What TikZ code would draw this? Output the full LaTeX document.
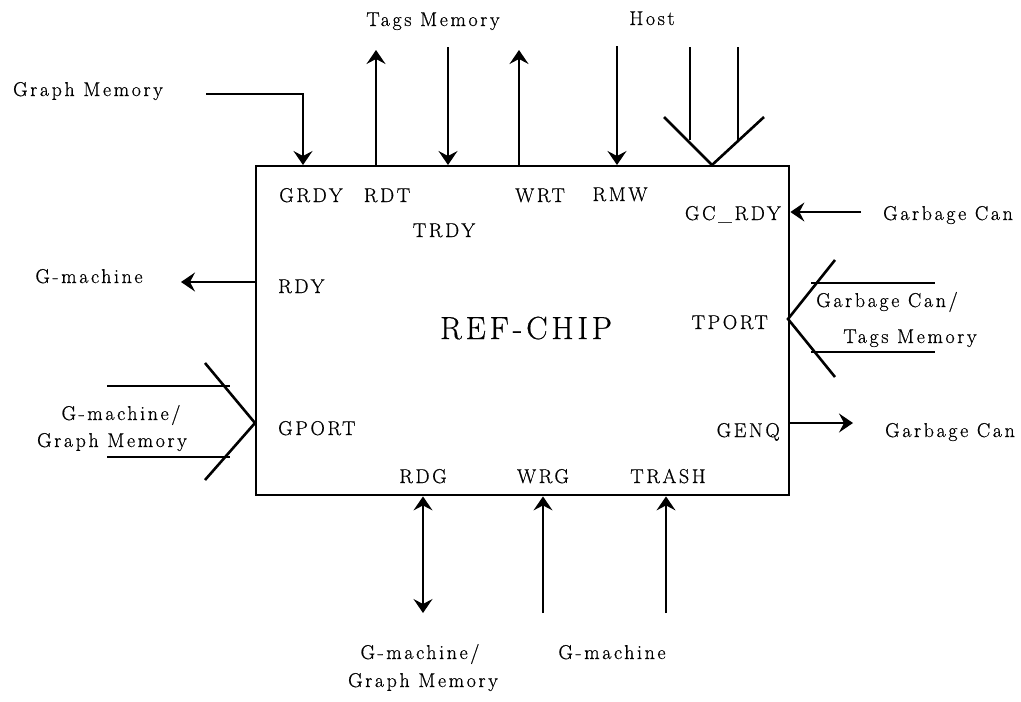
\documentclass[tikz,border=0pt]{standalone}
\usepackage{fontspec}
\newfontfamily\lblfont{Latin Modern Roman}[LetterSpace=13,FakeBold=0.6]
\newfontfamily\titlefont{Latin Modern Roman}[LetterSpace=12,FakeBold=0.6]
\usetikzlibrary{arrows.meta}
\begin{document}
\begin{tikzpicture}[x=1pt,y=-1pt,
  lbl/.style={font=\lblfont\fontsize{20}{23}\selectfont, inner sep=0pt, anchor=base},
  title/.style={font=\titlefont\fontsize{32}{36}\selectfont, inner sep=0pt, anchor=base},
  sig/.style={line width=1.5pt},
  bus/.style={line width=2.6pt},
  tip/.tip={Stealth[length=14pt,width=19pt,inset=5pt]},
  arr/.style={sig, -tip},
  darr/.style={sig, tip-tip},
  chipbox/.style={draw, line width=2.4pt, minimum width=533pt, minimum height=329pt, inner sep=0pt, anchor=north west}]
\useasboundingbox (0,0) rectangle (1021,702);

% main box
\node[chipbox] (chip) at (255,165) {};
\node[title] (name) at (526,339) {REF-CHIP};

% inner port labels
\node[lbl] (grdy) at (311,202) {GRDY};
\node[lbl] (rdt) at (387,202) {RDT};
\node[lbl] (trdy) at (444,237) {TRDY};
\node[lbl] (wrt) at (540,202) {WRT};
\node[lbl] (rmw) at (620,201) {RMW};
\node[lbl, anchor=base east] (gcrdy) at (781,220) {GC\_RDY};
\node[lbl, anchor=base west] (rdy) at (278,293) {RDY};
\node[lbl, anchor=base east] (tport) at (768,329) {TPORT};
\node[lbl, anchor=base west] (gport) at (278,435) {GPORT};
\node[lbl, anchor=base east] (genq) at (780,437) {GENQ};
\node[lbl] (rdg) at (423,483) {RDG};
\node[lbl] (wrg) at (543,483) {WRG};
\node[lbl] (trash) at (668,483) {TRASH};

% outer labels
\node[lbl] (gmem) at (88,96) {Graph Memory};
\node[lbl] (tags) at (433,26) {Tags Memory};
\node[lbl] (host) at (652,25) {Host};
\node[lbl] (gc1) at (948,220) {Garbage Can};
\node[lbl] (gm1) at (89,283) {G-machine};
\node[lbl] (gctag1) at (887,307) {Garbage Can/};
\node[lbl] (gctag2) at (910,343) {Tags Memory};
\node[lbl] (gc2) at (950,437) {Garbage Can};
\node[lbl] (gmgm1) at (121,420) {G-machine/};
\node[lbl] (gmgm2) at (112,447) {Graph Memory};
\node[lbl] (gmgm3) at (420,659) {G-machine/};
\node[lbl] (gmgm4) at (423,687) {Graph Memory};
\node[lbl] (gm2) at (612,659) {G-machine};

% coordinates for free ends
\coordinate (pGRDYa) at (206,94);
\coordinate (pGRDYb) at (303,94);
\coordinate (pRDT) at (376,50);
\coordinate (pTRDY) at (448,47);
\coordinate (pWRT) at (519,50);
\coordinate (pRMW) at (617,46);
\coordinate (pGC) at (861,212);
\coordinate (pRDY) at (181,282);
\coordinate (pGENQ) at (853,423);
\coordinate (pRDG) at (423,613);
\coordinate (pWRG) at (543,613);
\coordinate (pTRASH) at (666,613);

% top signals
\draw[arr] (pGRDYa) -- (pGRDYb) -- (pGRDYb |- chip.north);
\draw[arr] (pRDT |- chip.north) -- (pRDT);
\draw[arr] (pTRDY) -- (pTRDY |- chip.north);
\draw[arr] (pWRT |- chip.north) -- (pWRT);
\draw[arr] (pRMW) -- (pRMW |- chip.north);

% host bus
\coordinate (hApex) at (712,165);
\coordinate (hL) at (664,117);
\coordinate (hR) at (764,117);
\draw[bus] (hL) -- (hApex) -- (hR);
\draw[sig, line width=1.8pt] (690,47) -- (690,140);
\draw[sig, line width=1.8pt] (738,47) -- (738,140);

% right side
\draw[arr] (pGC) -- (pGC -| chip.east);
\coordinate (tApex) at (788,319);
\draw[bus] (835,260) -- (tApex) -- (835,377);
\draw[sig] (811,283) -- (935,283);
\draw[sig] (811,352) -- (935,352);
\draw[arr] (pGENQ -| chip.east) -- (pGENQ);

% left side
\draw[arr] (pRDY -| chip.west) -- (pRDY);
\coordinate (gApex) at (255,423);
\draw[bus] (205,363) -- (gApex) -- (205,480);
\draw[sig] (107,386) -- (230,386);
\draw[sig] (107,457) -- (230,457);

% bottom
\draw[darr] (pRDG) -- (pRDG |- chip.south);
\draw[arr] (pWRG) -- (pWRG |- chip.south);
\draw[arr] (pTRASH) -- (pTRASH |- chip.south);
\end{tikzpicture}
\end{document}
